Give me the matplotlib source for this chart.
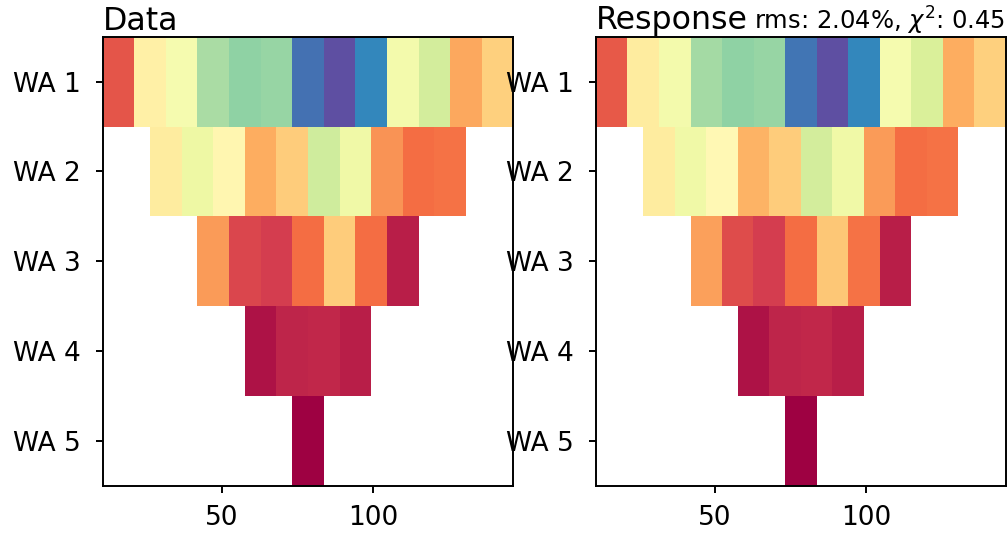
import matplotlib
matplotlib.use("Agg")
import matplotlib.pyplot as plt
import numpy as np

# electrode positions along the profile (m)
electrodes = [0.2, 10.6, 21.0, 31.5, 41.9, 52.3, 62.8, 73.2, 83.6, 94.1,
              104.5, 114.9, 125.4, 135.8, 146.2, 156.7]

# Wenner-alpha separations shown as rows
spacings = [1, 2, 3, 4, 5]
row_labels = ['WA 1', 'WA 2', 'WA 3', 'WA 4', 'WA 5']

# apparent resistivity (Ohm m), one list per separation
data_wa1 = [115, 145, 154, 170, 174, 173, 194, 200, 190, 155, 163, 129, 137]
data_wa2 = [144, 157, 147, 130, 136, 164, 156, 126, 120, 121]
data_wa3 = [127, 112, 110, 120, 136, 120, 105]
data_wa4 = [103, 106, 106.5, 105]
data_wa5 = [100]

resp_wa1 = [116, 144, 155, 171, 174, 173, 193, 200, 190, 154, 162, 130, 137]
resp_wa2 = [144, 156, 148, 131, 136, 163, 156, 127, 120, 121]
resp_wa3 = [128, 113, 110, 120, 135, 121, 105]
resp_wa4 = [103, 106, 106.5, 105]
resp_wa5 = [100]

data_rows = [data_wa1, data_wa2, data_wa3, data_wa4, data_wa5]
resp_rows = [resp_wa1, resp_wa2, resp_wa3, resp_wa4, resp_wa5]

rms = 2.04
chi2 = 0.45
vmin, vmax = 100, 200

plt.rcParams['font.family'] = 'DejaVu Sans'
plt.rcParams['font.size'] = 19


def cell_edges(a, n):
    # edges halfway between neighbouring midpoints of the array
    e = np.asarray(electrodes)
    i = np.arange(n)
    left = (e[i + a - 1] + e[i + a] + e[i + 2 * a - 1] + e[i + 2 * a]) / 4
    right = (e[i + a] + e[i + a + 1] + e[i + 2 * a] + e[i + 2 * a + 1]) / 4
    return np.append(left, right[-1])


def draw_matrix(ax, rows):
    for r, (a, vals) in enumerate(zip(spacings, rows)):
        xe = cell_edges(a, len(vals))
        ye = [r + 0.5, r + 1.5]
        ax.pcolormesh(xe, ye, np.array([vals]), cmap='Spectral',
                      vmin=vmin, vmax=vmax)
    x1 = cell_edges(spacings[0], len(rows[0]))
    ax.set_xlim(x1[0], x1[-1])
    ax.set_ylim(len(rows) + 0.5, 0.5)
    ax.set_yticks(range(1, len(rows) + 1))
    ax.set_yticklabels(row_labels)
    ax.set_xticks([50, 100])
    for s in ax.spines.values():
        s.set_linewidth(1.4)
    ax.tick_params(width=1.4, length=5)
    ax.tick_params(axis='y', pad=11)
    ax.tick_params(axis='x', pad=9)


fig = plt.figure(figsize=(10.07, 5.34), dpi=100)
ax1 = fig.add_axes([0.102, 0.0904, 0.4077, 0.8408])
ax2 = fig.add_axes([0.5918, 0.0904, 0.4069, 0.8408])

draw_matrix(ax1, data_rows)
ax1.set_title('Data', loc='left', pad=3.5)

draw_matrix(ax2, resp_rows)
ax2.set_title('Response', loc='left', pad=3.5)
ax2.set_title('rms: {:.2f}%, $\\chi^2$: {:.2f}'.format(rms, chi2),
              loc='right', pad=3.5, fontsize=17.5)

fig.savefig('out.png', dpi=100)
